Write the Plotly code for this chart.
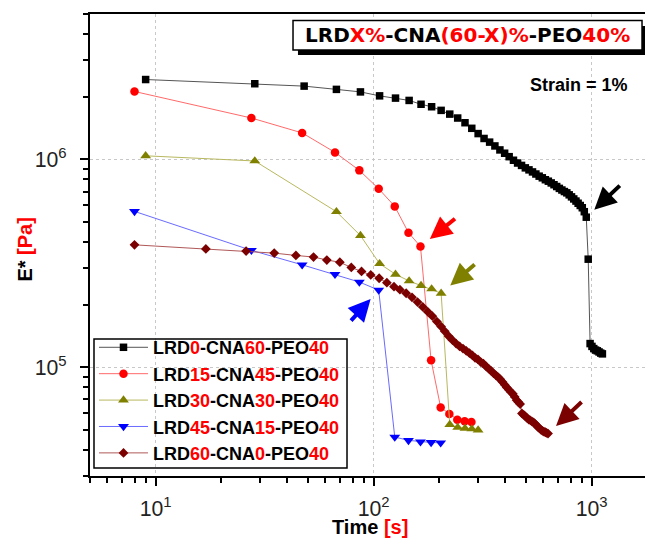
import numpy as np
import plotly.graph_objects as go

# ---------------- data ----------------
t_lrd0 = [9, 28.5, 48, 67.5, 87, 106.5, 126, 145.5, 165, 184.5, 204, 223.5, 243, 262.5, 282,
          301.5, 321, 340.5, 360, 379.5, 399, 418.5, 438, 457.5, 477, 496.5, 516, 535.5, 555,
          574.5, 594, 613.5, 633, 652.5, 672, 691.5, 711, 730.5, 750, 769.5, 789, 808.5, 828,
          847.5, 867, 886.5, 906, 925.5, 945, 964.5, 984, 1003.5, 1023, 1042.5, 1062, 1081.5,
          1101, 1120.5]
e_lrd0 = [2.42e6, 2.31e6, 2.25e6, 2.17e6, 2.11e6, 2.02e6, 1.97e6, 1.92e6, 1.84e6, 1.79e6,
          1.72e6, 1.65e6, 1.58e6, 1.50e6, 1.41e6, 1.33e6, 1.26e6, 1.21e6, 1.16e6, 1.11e6,
          1.07e6, 1.03e6, 9.9e5, 9.6e5, 9.35e5, 9.1e5, 8.9e5, 8.7e5, 8.5e5, 8.3e5, 8.15e5,
          7.98e5, 7.85e5, 7.7e5, 7.55e5, 7.4e5, 7.25e5, 7.12e5, 7.0e5, 6.9e5, 6.75e5, 6.6e5,
          6.45e5, 6.3e5, 6.15e5, 6.0e5, 5.85e5, 5.6e5, 5.27e5, 3.31e5, 1.30e5, 1.26e5,
          1.23e5, 1.21e5, 1.20e5, 1.185e5, 1.17e5, 1.16e5]

t_lrd15 = [8, 27.5, 47, 66.5, 86, 105.5, 125, 144.5, 164, 183.5, 203, 222.5, 242, 261.5, 281]
e_lrd15 = [2.12e6, 1.58e6, 1.34e6, 1.08e6, 8.85e5, 7.22e5, 5.94e5, 4.44e5, 3.81e5, 1.08e5,
           6.41e4, 5.96e4, 5.6e4, 5.5e4, 5.45e4]

t_lrd30 = [9, 28.5, 67.5, 87, 106.5, 126, 145.5, 165, 184.5, 204, 223.5, 243, 262.5, 282, 301.5]
e_lrd30 = [1.04e6, 9.82e5, 5.6e5, 4.3e5, 3.15e5, 2.8e5, 2.6e5, 2.47e5, 2.38e5, 2.27e5,
           5.3e4, 5.14e4, 5.08e4, 5.05e4, 4.99e4]

t_lrd45 = [8, 27.5, 47, 66.5, 86, 105.5, 125, 144.5, 164, 183.5, 203]
e_lrd45 = [5.62e5, 3.65e5, 3.11e5, 2.8e5, 2.57e5, 2.35e5, 4.62e4, 4.45e4, 4.38e4, 4.35e4, 4.33e4]

t_lrd60 = [8, 17, 26, 35, 44, 53, 61, 70, 79, 88, 97, 106, 115, 124, 132, 141, 150, 159, 168,
           177, 186, 195, 204, 212, 221, 230, 239, 248, 257, 266, 275, 284, 292, 301, 310, 319,
           328, 337, 346, 355, 364, 373, 381, 390, 399, 408, 417, 426, 435, 444, 453, 461, 470,
           479, 488, 497, 506, 515, 524, 533, 542, 550, 559, 568, 577, 586, 595, 604, 613, 622,
           631]
e_lrd60 = [3.88e5, 3.71e5, 3.62e5, 3.54e5, 3.45e5, 3.39e5, 3.28e5, 3.20e5, 3.02e5, 2.89e5,
           2.78e5, 2.68e5, 2.55e5, 2.44e5, 2.36e5, 2.27e5, 2.17e5, 2.06e5, 1.95e5, 1.85e5,
           1.76e5, 1.66e5, 1.57e5, 1.49e5, 1.41e5, 1.35e5, 1.30e5, 1.26e5, 1.23e5, 1.20e5,
           1.17e5, 1.14e5, 1.11e5, 1.09e5, 1.06e5, 1.04e5, 1.01e5, 9.85e4, 9.6e4, 9.35e4,
           9.15e4, 8.95e4, 8.75e4, 8.5e4, 8.25e4, 8.0e4, 7.8e4, 7.6e4, 7.45e4, 7.2e4, 6.95e4,
           6.8e4, 6.65e4, 6.0e4, 5.9e4, 5.8e4, 5.7e4, 5.6e4, 5.55e4, 5.48e4, 5.43e4, 5.35e4,
           5.25e4, 5.15e4, 5.08e4, 5.0e4, 4.95e4, 4.9e4, 4.87e4, 4.83e4, 4.8e4]

series_names = [
    "LRD<span style='color:#ff0000'>0</span>-CNA<span style='color:#ff0000'>60</span>-PEO<span style='color:#ff0000'>40</span>",
    "LRD<span style='color:#ff0000'>15</span>-CNA<span style='color:#ff0000'>45</span>-PEO<span style='color:#ff0000'>40</span>",
    "LRD<span style='color:#ff0000'>30</span>-CNA<span style='color:#ff0000'>30</span>-PEO<span style='color:#ff0000'>40</span>",
    "LRD<span style='color:#ff0000'>45</span>-CNA<span style='color:#ff0000'>15</span>-PEO<span style='color:#ff0000'>40</span>",
    "LRD<span style='color:#ff0000'>60</span>-CNA<span style='color:#ff0000'>0</span>-PEO<span style='color:#ff0000'>40</span>",
]
title_text = ("LRD<span style='color:#ff0000'>X%</span>-CNA<span style='color:#ff0000'>(60-X)%</span>"
              "-PEO<span style='color:#ff0000'>40%</span>")
strain_text = "Strain = 1%"
x_title = "Time <span style='color:#ff0000'>[s]</span>"
y_title = "E* <span style='color:#ff0000'>[Pa]</span>"
x_tick_alias = {"10": "10<sup>1</sup>"}

# ---------------- styling ----------------
FONT = "Liberation Sans, Arial, sans-serif"
marker_colors = ["#000000", "#ff0000", "#808000", "#0000ff", "#7b0000"]
line_colors = ["#555555", "#ff6a6a", "#b8b860", "#6a6aff", "#b05858"]
symbols = ["square", "circle", "triangle-up", "triangle-down", "diamond"]
sizes = [7.5, 8.5, 9.5, 9.5, 7.5]

all_t = [t_lrd0, t_lrd15, t_lrd30, t_lrd45, t_lrd60]
all_e = [e_lrd0, e_lrd15, e_lrd30, e_lrd45, e_lrd60]

fig = go.Figure()
for i in range(5):
    fig.add_trace(go.Scatter(
        x=all_t[i], y=all_e[i], mode="lines+markers", name=series_names[i],
        line=dict(color=line_colors[i], width=1),
        marker=dict(symbol=symbols[i], size=sizes[i], color=marker_colors[i]),
    ))

# arrows pointing to the transition points
arrow_specs = [  # (series index, point index, ax, ay, standoff)
    (0, 48, 35, -33, 11),
    (1, 8, 36, -29, 12),
    (2, 9, 35, -30, 12),
    (3, 5, -29, 32, 12),
    (4, len(t_lrd60) - 1, 35, -33, 11),
]
for si, pi, ax, ay, so in arrow_specs:
    fig.add_annotation(
        x=np.log10(all_t[si][pi]), y=np.log10(all_e[si][pi]), xref="x", yref="y",
        text="", showarrow=True, arrowhead=2, arrowsize=1.1, arrowwidth=4,
        arrowcolor=marker_colors[si], ax=ax, ay=ay, standoff=so,
    )

# title box with shadow
fig.add_shape(type="rect", xref="paper", yref="paper", x0=0.3694, x1=0.9893, y0=0.9113, y1=0.974,
              fillcolor="black", line=dict(width=0), layer="above")
fig.add_shape(type="rect", xref="paper", yref="paper", x0=0.3606, x1=0.9805, y0=0.9221, y1=0.9859,
              fillcolor="white", line=dict(color="black", width=1.5), layer="above")
fig.add_annotation(x=0.6705, y=0.9535, xref="paper", yref="paper", text=title_text, showarrow=False,
                   font=dict(family="DejaVu Sans", size=20, color="black", weight="bold"),
                   xanchor="center", yanchor="middle")
fig.add_annotation(x=0.8686, y=0.8463, xref="paper", yref="paper", text=strain_text, showarrow=False,
                   font=dict(family=FONT, size=18, color="black", weight="bold"),
                   xanchor="center", yanchor="middle")

# axis titles
fig.add_annotation(x=0.4973, y=-0.1104, xref="paper", yref="paper", text=x_title, showarrow=False,
                   font=dict(family=FONT, size=20, color="black", weight="bold"),
                   xanchor="center", yanchor="middle")
fig.add_annotation(x=-0.1155, y=0.490, xref="paper", yref="paper", text=y_title, showarrow=False,
                   textangle=-90, font=dict(family=FONT, size=20, color="black", weight="bold"),
                   xanchor="center", yanchor="middle")

# legend frame (legend itself is transparent, grid shows through as in the reference)
fig.add_shape(type="rect", xref="paper", yref="paper", x0=0.0071, x1=0.4565, y0=0.0173, y1=0.2965,
              fillcolor="rgba(0,0,0,0)", line=dict(color="black", width=1.5), layer="above")

axis_common = dict(
    type="log", showline=True, linecolor="black", linewidth=2,
    ticks="outside", ticklen=8, tickwidth=2, tickcolor="black",
    showgrid=True, gridcolor="#c8c8c8", gridwidth=1, griddash="3px,3px",
    zeroline=False, dtick=1, exponentformat="power",
    tickfont=dict(family=FONT, size=17, color="#222222"),
    minor=dict(ticks="outside", ticklen=5, tickwidth=1.5, tickcolor="black", dtick="D1", showgrid=False),
)

fig.update_xaxes(**axis_common, range=[np.log10(5), 3.2815], mirror=True, labelalias=x_tick_alias,
                 ticklabelstandoff=5)
fig.update_yaxes(**axis_common, range=[np.log10(3e4), np.log10(5e6)], mirror=False,
                 ticklabelstandoff=10)

# the page body adds an 8px offset, so the figure is smaller with smaller margins
fig.update_layout(
    width=645, height=536,
    margin=dict(l=82, r=0, t=6, b=68),
    paper_bgcolor="white", plot_bgcolor="white",
    font=dict(family=FONT, color="black"),
    legend=dict(x=0.0071, y=0.318, xanchor="left", yanchor="top",
                bgcolor="rgba(0,0,0,0)", borderwidth=0,
                font=dict(family=FONT, size=18, color="black", weight="bold"),
                tracegroupgap=0, itemwidth=49),
    showlegend=True,
)

fig.write_html("out.html")
